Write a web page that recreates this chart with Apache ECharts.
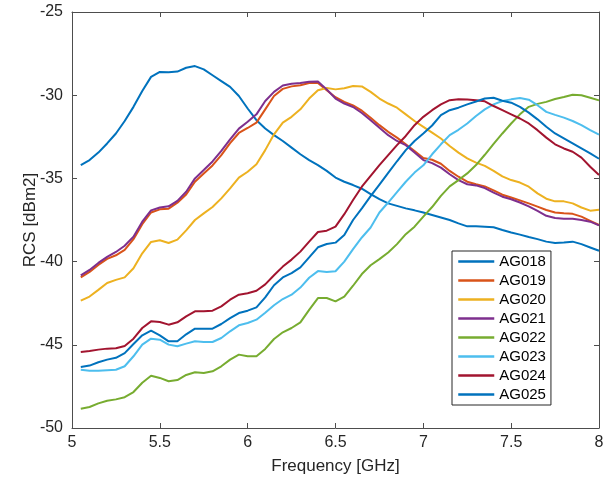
<!DOCTYPE html>
<html>
<head>
<meta charset="utf-8">
<script src="https://cdn.jsdelivr.net/npm/echarts@6/dist/echarts.min.js"></script>
<style>
  html, body { margin: 0; padding: 0; background: #fff; }
  #chart { width: 613px; height: 483px; }
</style>
</head>
<body>
<div id="chart"></div>
<script>
// frequency samples (GHz)
const freq = [
  5.05, 5.1, 5.15, 5.2, 5.25, 5.3, 5.35, 5.4, 5.45, 5.5,
  5.55, 5.6, 5.65, 5.7, 5.75, 5.8, 5.85, 5.9, 5.95, 6.0,
  6.05, 6.1, 6.15, 6.2, 6.25, 6.3, 6.35, 6.4, 6.45, 6.5,
  6.55, 6.6, 6.65, 6.7, 6.75, 6.8, 6.85, 6.9, 6.95, 7.0,
  7.05, 7.1, 7.15, 7.2, 7.25, 7.3, 7.35, 7.4, 7.45, 7.5,
  7.55, 7.6, 7.65, 7.7, 7.75, 7.8, 7.85, 7.9, 7.95, 8.0
]

// RCS values (dBm2), one per frequency
const ag018 = [
  -34.2, -33.9, -33.45, -32.9, -32.3, -31.55, -30.7, -29.75, -28.9, -28.6,
  -28.62, -28.58, -28.35, -28.25, -28.45, -28.8, -29.15, -29.5, -30.05, -30.8,
  -31.5, -32.0, -32.4, -32.75, -33.15, -33.55, -33.9, -34.2, -34.55, -34.95,
  -35.2, -35.4, -35.62, -35.95, -36.25, -36.5, -36.65, -36.8, -36.92, -37.05,
  -37.2, -37.35, -37.5, -37.7, -37.88, -37.88, -37.9, -37.94, -38.1, -38.25,
  -38.38, -38.52, -38.65, -38.8, -38.88, -38.85, -38.8, -38.95, -39.15, -39.35
]
const ag019 = [
  -40.95, -40.62, -40.2, -39.84, -39.62, -39.3, -38.65, -37.75, -37.05, -36.86,
  -36.82, -36.46, -35.97, -35.2, -34.7, -34.22, -33.6, -32.88, -32.27, -31.97,
  -31.65, -30.85, -30.05, -29.62, -29.47, -29.4, -29.27, -29.26, -29.7, -30.12,
  -30.4, -30.61, -30.93, -31.35, -31.8, -32.2, -32.55, -32.95, -33.35, -33.77,
  -33.88, -34.12, -34.55, -34.9, -35.2, -35.35, -35.48, -35.72, -35.98, -36.15,
  -36.32, -36.5, -36.7, -36.9, -37.05, -37.1, -37.13, -37.3, -37.55, -37.8
]
const ag020 = [
  -42.35, -42.1, -41.7, -41.29, -41.1, -40.95, -40.4, -39.5, -38.82, -38.72,
  -38.88, -38.68, -38.12, -37.5, -37.1, -36.72, -36.2, -35.6, -34.95, -34.6,
  -34.15, -33.3, -32.35, -31.65, -31.3, -30.85, -30.2, -29.7, -29.57, -29.65,
  -29.58, -29.45, -29.47, -29.8, -30.2, -30.5, -30.75, -31.15, -31.55, -31.9,
  -32.25, -32.6, -33.05, -33.45, -33.8, -34.05, -34.25, -34.55, -34.88, -35.1,
  -35.25, -35.5, -35.9, -36.22, -36.38, -36.38, -36.5, -36.75, -36.94, -36.88
]
const ag021 = [
  -40.83, -40.5, -40.08, -39.72, -39.42, -39.05, -38.5, -37.6, -36.92, -36.75,
  -36.68, -36.35, -35.8, -35.0, -34.5, -33.98, -33.35, -32.65, -32.01, -31.6,
  -31.15, -30.35, -29.8, -29.42, -29.31, -29.26, -29.19, -29.17, -29.65, -30.2,
  -30.5, -30.71, -31.07, -31.5, -31.95, -32.4, -32.75, -33.0, -33.45, -33.9,
  -34.08, -34.35, -34.75, -35.1, -35.35, -35.42, -35.58, -35.85, -36.1, -36.25,
  -36.45, -36.68, -36.95, -37.25, -37.38, -37.42, -37.42, -37.5, -37.6, -37.82
]
const ag022 = [
  -48.84, -48.74, -48.52, -48.36, -48.28, -48.15, -47.84, -47.28, -46.86, -46.99,
  -47.19, -47.12, -46.81, -46.65, -46.69, -46.59, -46.29, -45.89, -45.59, -45.69,
  -45.69, -45.25, -44.65, -44.25, -43.99, -43.65, -42.9, -42.19, -42.19, -42.39,
  -42.1, -41.45, -40.75, -40.22, -39.85, -39.45, -38.95, -38.35, -37.9, -37.3,
  -36.72, -36.05, -35.48, -35.1, -34.7, -34.2, -33.58, -32.93, -32.3, -31.7,
  -31.15, -30.7, -30.52, -30.4, -30.23, -30.11, -29.97, -30.0, -30.15, -30.31
]
const ag023 = [
  -46.5, -46.56, -46.56, -46.53, -46.5, -46.29, -45.69, -44.99, -44.63, -44.69,
  -44.99, -45.09, -44.93, -44.79, -44.83, -44.83, -44.59, -44.19, -43.83, -43.69,
  -43.49, -43.07, -42.62, -42.25, -41.99, -41.56, -40.97, -40.57, -40.63, -40.58,
  -40.0, -39.25, -38.55, -37.95, -37.05, -36.45, -35.82, -35.2, -34.65, -34.21,
  -33.55, -32.95, -32.4, -32.08, -31.7, -31.25, -30.85, -30.55, -30.35, -30.25,
  -30.17, -30.27, -30.6, -31.0, -31.18, -31.35, -31.55, -31.8, -32.1, -32.37
]
const ag024 = [
  -45.43, -45.37, -45.29, -45.23, -45.21, -45.07, -44.63, -43.99, -43.59, -43.63,
  -43.79, -43.65, -43.29, -42.99, -42.99, -42.95, -42.69, -42.29, -41.99, -41.9,
  -41.75, -41.37, -40.82, -40.3, -39.88, -39.4, -38.8, -38.22, -38.14, -37.9,
  -37.15, -36.3, -35.5, -34.85, -34.2, -33.6, -33.0, -32.45, -31.8, -31.3,
  -30.9, -30.55, -30.3, -30.25, -30.26, -30.3, -30.37, -30.65, -30.9, -31.15,
  -31.4, -31.7, -32.1, -32.55, -32.95, -33.2, -33.4, -33.75, -34.3, -34.8
]
const ag025 = [
  -46.33, -46.25, -46.05, -45.89, -45.78, -45.5, -44.95, -44.43, -44.15, -44.43,
  -44.79, -44.79, -44.37, -44.03, -44.03, -44.03, -43.75, -43.4, -43.09, -42.95,
  -42.75, -42.15, -41.42, -40.95, -40.69, -40.35, -39.75, -39.14, -38.94, -38.86,
  -38.4, -37.5, -36.8, -36.07, -35.37, -34.67, -33.97, -33.3, -32.75, -32.3,
  -31.82, -31.2, -30.9, -30.75, -30.55, -30.38, -30.2, -30.15, -30.33, -30.45,
  -30.7, -31.05, -31.45, -31.9, -32.3, -32.6, -32.9, -33.2, -33.5, -33.82
]

const names = ['AG018', 'AG019', 'AG020', 'AG021', 'AG022', 'AG023', 'AG024', 'AG025']
const values = [ag018, ag019, ag020, ag021, ag022, ag023, ag024, ag025]
const colors = ['#0072BD', '#D95319', '#EDB120', '#7E2F8E', '#77AC30', '#4DBEEE', '#A2142F', '#0072BD']

const FONT = '"Liberation Sans", Arial, sans-serif'
const AXIS_COLOR = '#4d4d4d'
const TEXT_COLOR = '#262626'

const chart = echarts.init(document.getElementById('chart'))

const boxAxis = {
  axisLine: { show: true, onZero: false, lineStyle: { color: AXIS_COLOR, width: 1 } },
  axisTick: { show: true, inside: true, length: 5, lineStyle: { color: AXIS_COLOR } },
  splitLine: { show: false }
}

chart.setOption({
  animation: false,
  backgroundColor: '#fff',
  grid: { left: 72, right: 14, top: 12, bottom: 55 },
  legend: {
    data: names,
    orient: 'vertical',
    left: 452,
    top: 251,
    padding: [3, 5, 3, 5],
    itemWidth: 36,
    itemHeight: 14,
    itemGap: 4,
    itemStyle: { opacity: 0 },
    lineStyle: { width: 2.5 },
    borderColor: TEXT_COLOR,
    borderWidth: 1,
    borderRadius: 0,
    backgroundColor: '#fff',
    textStyle: { fontFamily: FONT, fontSize: 15, color: '#000', lineHeight: 14 }
  },
  xAxis: [
    {
      ...boxAxis,
      type: 'value',
      min: 5, max: 8, interval: 0.5,
      name: 'Frequency [GHz]',
      nameLocation: 'middle',
      nameGap: 30,
      nameMoveOverlap: false,
      nameTextStyle: { fontFamily: FONT, fontSize: 17, color: TEXT_COLOR },
      axisLabel: { fontFamily: FONT, fontSize: 16, color: TEXT_COLOR, margin: 7 }
    },
    {
      ...boxAxis,
      type: 'value',
      position: 'top',
      min: 5, max: 8, interval: 0.5,
      axisLabel: { show: false }
    }
  ],
  yAxis: [
    {
      ...boxAxis,
      type: 'value',
      min: -50, max: -25, interval: 5,
      name: 'RCS [dBm2]',
      nameLocation: 'middle',
      nameGap: 33,
      nameMoveOverlap: false,
      nameTextStyle: { fontFamily: FONT, fontSize: 17, color: TEXT_COLOR },
      axisLabel: { fontFamily: FONT, fontSize: 16, color: TEXT_COLOR, margin: 9 }
    },
    {
      ...boxAxis,
      type: 'value',
      position: 'right',
      min: -50, max: -25, interval: 5,
      axisLabel: { show: false }
    }
  ],
  series: names.map((name, i) => ({
    name,
    type: 'line',
    data: freq.map((f, j) => [f, values[i][j]]),
    symbol: 'none',
    smooth: false,
    color: colors[i],
    lineStyle: { color: colors[i], width: 2 }
  }))
})
</script>
</body>
</html>
